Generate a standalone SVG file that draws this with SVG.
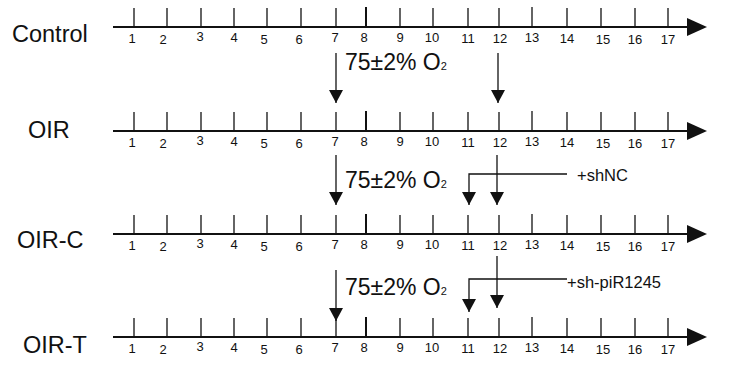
<svg xmlns="http://www.w3.org/2000/svg" width="736" height="373" viewBox="0 0 736 373">
<style>
  text { font-family: "Liberation Sans", Arial, sans-serif; fill: #111; }
  .lbl { font-size: 23.5px; }
  .num { font-size: 13px; text-anchor: middle; }
  .o2 { font-size: 23px; }
  .sub { font-size: 11px; }
  .tr { font-size: 16.5px; }
  .axis { stroke: #111; stroke-width: 2; fill: none; }
  .tick { stroke: #111; stroke-width: 1.3; }
  .tick8 { stroke: #111; stroke-width: 2; }
  .head { fill: #111; }
  .conn { stroke: #111; stroke-width: 1.3; fill: none; marker-end: url(#ah); }
</style>
<defs>
  <marker id="ah" markerUnits="userSpaceOnUse" markerWidth="14" markerHeight="14" refX="13" refY="7" orient="auto">
    <path d="M0,0 L13,7 L0,14 z" fill="#111"/>
  </marker>
  <g id="ticks">
    <line class="tick" x1="134" y1="-19" x2="134" y2="0"/>
    <line class="tick" x1="167" y1="-19" x2="167" y2="0"/>
    <line class="tick" x1="201" y1="-19" x2="201" y2="0"/>
    <line class="tick" x1="234" y1="-19" x2="234" y2="0"/>
    <line class="tick" x1="267" y1="-19" x2="267" y2="0"/>
    <line class="tick" x1="301" y1="-19" x2="301" y2="0"/>
    <line class="tick" x1="336" y1="-19" x2="336" y2="0"/>
    <line class="tick8" x1="366" y1="-20" x2="366" y2="0"/>
    <line class="tick" x1="400" y1="-19" x2="400" y2="0"/>
    <line class="tick" x1="433" y1="-19" x2="433" y2="0"/>
    <line class="tick" x1="468" y1="-19" x2="468" y2="0"/>
    <line class="tick" x1="499" y1="-19" x2="499" y2="0"/>
    <line class="tick" x1="532" y1="-20" x2="532" y2="0"/>
    <line class="tick" x1="567" y1="-19" x2="567" y2="0"/>
    <line class="tick" x1="601" y1="-19" x2="601" y2="0"/>
    <line class="tick" x1="635" y1="-19" x2="635" y2="0"/>
    <line class="tick" x1="668" y1="-19" x2="668" y2="0"/>
    <line class="axis" x1="113" y1="0" x2="690" y2="0"/>
    <polygon class="head" points="687,-9 707,0 687,9"/>
    <text class="num" x="132" y="16">1</text>
    <text class="num" x="163" y="17">2</text>
    <text class="num" x="200" y="14">3</text>
    <text class="num" x="234" y="15">4</text>
    <text class="num" x="264" y="16.5">5</text>
    <text class="num" x="299" y="17">6</text>
    <text class="num" x="335" y="14.5">7</text>
    <text class="num" x="364" y="14.5">8</text>
    <text class="num" x="400" y="15">9</text>
    <text class="num" x="432" y="15">10</text>
    <text class="num" x="468" y="15.5">11</text>
    <text class="num" x="500" y="15.5">12</text>
    <text class="num" x="532" y="15">13</text>
    <text class="num" x="567" y="15.5">14</text>
    <text class="num" x="603" y="17">15</text>
    <text class="num" x="635" y="17">16</text>
    <text class="num" x="668" y="16.5">17</text>
  </g>
</defs>

<g id="control">
  <text class="lbl" x="12" y="42">Control</text>
  <use href="#ticks" transform="translate(0,27)"/>
</g>
<g id="oir">
  <text class="lbl" x="28" y="138">OIR</text>
  <use href="#ticks" transform="translate(0,131)"/>
</g>
<g id="oir-c">
  <text class="lbl" x="17" y="248">OIR-C</text>
  <use href="#ticks" transform="translate(0,234)"/>
</g>
<g id="oir-t">
  <text class="lbl" x="23" y="353">OIR-T</text>
  <use href="#ticks" transform="translate(0,337)"/>
</g>

<g id="connectors">
  <line class="conn" x1="336" y1="53" x2="336" y2="103"/>
  <line class="conn" x1="498" y1="53" x2="498" y2="103"/>
  <text class="o2" x="345" y="70">75±2% O<tspan class="sub">2</tspan></text>

  <line class="conn" x1="336" y1="155" x2="336" y2="205"/>
  <line class="conn" x1="497" y1="155" x2="497" y2="205"/>
  <polyline class="conn" points="567,174 469,174 469,205"/>
  <text class="o2" x="345" y="188">75±2% O<tspan class="sub">2</tspan></text>
  <text class="tr" x="577" y="181">+shNC</text>

  <line class="conn" x1="336" y1="270" x2="336" y2="321"/>
  <line class="conn" x1="497" y1="256" x2="497" y2="308"/>
  <polyline class="conn" points="567,279 469,279 469,312"/>
  <text class="o2" x="345" y="295">75±2% O<tspan class="sub">2</tspan></text>
  <text class="tr" x="567" y="288">+sh-piR1245</text>
</g>
</svg>
